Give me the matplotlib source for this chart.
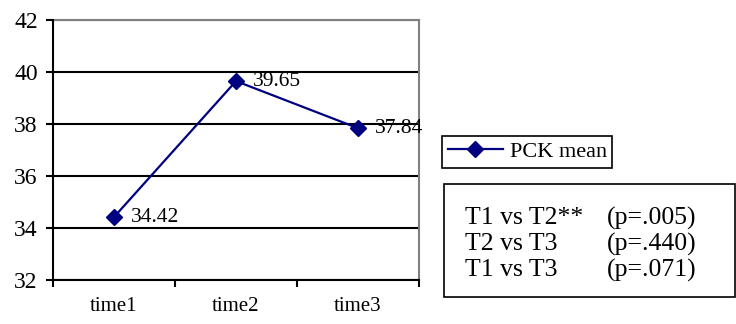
import matplotlib.pyplot as plt
from matplotlib.patches import Rectangle

# data
times = ['time1', 'time2', 'time3']
pck_mean = [34.42, 39.65, 37.84]
comparisons = ['T1 vs T2**', 'T2 vs T3', 'T1 vs T3']
p_values = ['(p=.005)', '(p=.440)', '(p=.071)']

plt.rcParams['font.family'] = ['Liberation Serif', 'DejaVu Serif']

fig = plt.figure(figsize=(7.36, 3.24), dpi=100)
ax = fig.add_axes([53 / 736, 1 - 280 / 324, (419 - 53) / 736, (280 - 20) / 324])

xpos = [i + 0.5 for i in range(len(times))]
ax.plot(xpos, pck_mean, color='#000080', lw=1.6, marker='D', ms=8,
        label='PCK mean')
for x, y in zip(xpos, pck_mean):
    ax.annotate('%.2f' % y, (x, y), xytext=(12, 0), textcoords='offset points',
                ha='left', va='center', fontsize=15.5)

ax.set_xlim(0, 3)
ax.set_ylim(32, 42)
ax.set_yticks(range(32, 43, 2))
ax.set_xticks([0, 1, 2, 3])
ax.set_xticklabels([])
ax.set_xticks(xpos, minor=True)
ax.set_xticklabels(times, minor=True, fontsize=15)
ax.tick_params(axis='x', which='minor', length=0, pad=12)
ax.tick_params(axis='x', which='major', direction='out', length=5, width=1.5)
ax.tick_params(axis='y', direction='out', length=5, width=1.5, labelsize=17, pad=6)

ax.grid(axis='y', color='black', lw=1.5)
ax.set_axisbelow(True)
for side in ['left', 'bottom']:
    ax.spines[side].set_linewidth(1.5)
    ax.spines[side].set_zorder(3)
for side in ['top', 'right']:
    ax.spines[side].set_color('#808080')
    ax.spines[side].set_linewidth(1.5)

leg = fig.legend(loc='upper left', bbox_to_anchor=(442 / 736, 1 - 136 / 324),
                 fancybox=False, edgecolor='black', fontsize=16,
                 handlelength=2.5, handletextpad=0.3, borderpad=0.25,
                 borderaxespad=0, framealpha=1)
leg.get_frame().set_linewidth(1.2)

fig.patches.append(Rectangle((444 / 736, 1 - 297 / 324), (735 - 444) / 736,
                             (297 - 184) / 324, transform=fig.transFigure,
                             fill=False, edgecolor='black', lw=1.2))
for i, (c, p) in enumerate(zip(comparisons, p_values)):
    yy = 1 - (218 + i * 26) / 324
    fig.text(465 / 736, yy, c, fontsize=18.5, va='center', ha='left')
    fig.text(607 / 736, yy, p, fontsize=18.5, va='center', ha='left')

fig.savefig('out.png', dpi=100)
